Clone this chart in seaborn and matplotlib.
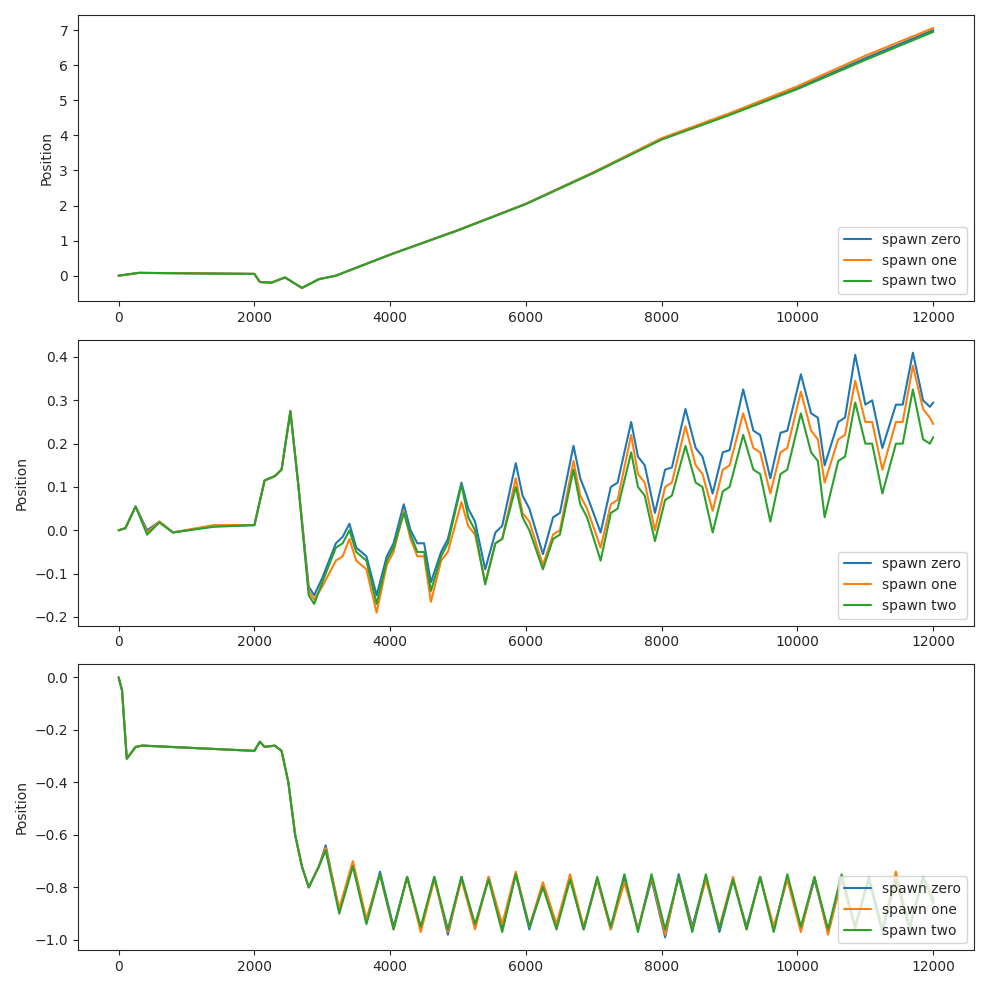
import matplotlib
matplotlib.use("Agg")
import matplotlib.pyplot as plt
import seaborn as sns
import pandas as pd

sns.set_style("ticks")
plt.rcParams['font.family'] = ['DejaVu Sans']

labels = ['spawn zero', 'spawn one', 'spawn two']
colors = ['#1f77b4', '#ff7f0e', '#2ca02c']

# Panel 1 - steady drift
x1 = [0, 300, 2000, 2080, 2250, 2450, 2700, 2950, 3200, 3600, 4000, 5000, 6000, 7000, 8000, 9000, 10000, 11000, 12000]
p1_zero = [0, 0.08, 0.05, -0.18, -0.2, -0.05, -0.35, -0.1, 0.0, 0.3, 0.6, 1.3, 2.05, 2.95, 3.9, 4.6, 5.35, 6.2, 7.0]
p1_one = [0, 0.08, 0.05, -0.18, -0.2, -0.05, -0.35, -0.1, 0.0, 0.3, 0.6, 1.3, 2.05, 2.95, 3.92, 4.63, 5.4, 6.27, 7.06]
p1_two = [0, 0.08, 0.05, -0.18, -0.2, -0.05, -0.35, -0.1, 0.0, 0.3, 0.6, 1.29, 2.04, 2.93, 3.88, 4.58, 5.32, 6.15, 6.95]

# Panel 2 - growing oscillation
x2 = [0, 100, 250, 420, 600, 800, 1400, 2000, 2150, 2300, 2400, 2530, 2650, 2800, 2880, 3000, 3200, 3300, 3400,
      3500, 3650, 3800, 3950, 4050, 4200, 4300, 4400, 4500, 4600, 4750, 4850, 5050, 5150, 5250, 5400, 5550, 5650,
      5850, 5950, 6050, 6250, 6400, 6500, 6700, 6800, 6900, 7100, 7250, 7350, 7550, 7650, 7750, 7900, 8050, 8150,
      8350, 8500, 8600, 8750, 8900, 9000, 9200, 9350, 9450, 9600, 9750, 9850, 10050, 10200, 10300, 10400, 10600,
      10700, 10850, 11000, 11100, 11250, 11450, 11550, 11700, 11850, 11950, 12000]
p2_zero = [0, 0.005, 0.055, 0.0, 0.02, -0.005, 0.01, 0.012, 0.115, 0.125, 0.14, 0.275, 0.1, -0.13, -0.15, -0.11,
           -0.03, -0.015, 0.015, -0.04, -0.06, -0.15, -0.06, -0.03, 0.06, 0.0, -0.03, -0.03, -0.12, -0.05, -0.02,
           0.11, 0.05, 0.02, -0.09, -0.005, 0.01, 0.155, 0.08, 0.05, -0.055, 0.03, 0.04, 0.195, 0.12, 0.08, -0.005,
           0.1, 0.11, 0.25, 0.17, 0.15, 0.04, 0.14, 0.145, 0.28, 0.19, 0.17, 0.085, 0.18, 0.185, 0.325, 0.23, 0.22,
           0.12, 0.225, 0.23, 0.36, 0.27, 0.26, 0.15, 0.25, 0.26, 0.405, 0.29, 0.3, 0.19, 0.29, 0.29, 0.41, 0.3,
           0.285, 0.295]
p2_one = [0, 0.005, 0.055, -0.005, 0.02, -0.005, 0.012, 0.012, 0.115, 0.125, 0.14, 0.275, 0.1, -0.14, -0.16, -0.13,
          -0.07, -0.06, -0.02, -0.07, -0.09, -0.19, -0.08, -0.05, 0.045, -0.02, -0.06, -0.06, -0.165, -0.07, -0.05,
          0.065, 0.01, -0.01, -0.12, -0.03, -0.02, 0.12, 0.04, 0.02, -0.08, -0.01, 0.0, 0.16, 0.08, 0.05, -0.04,
          0.06, 0.07, 0.22, 0.13, 0.11, 0.0, 0.1, 0.11, 0.24, 0.15, 0.13, 0.045, 0.14, 0.15, 0.27, 0.19, 0.18,
          0.085, 0.18, 0.19, 0.32, 0.23, 0.21, 0.11, 0.21, 0.22, 0.345, 0.25, 0.25, 0.14, 0.25, 0.25, 0.38, 0.28,
          0.26, 0.245]
p2_two = [0, 0.005, 0.055, -0.01, 0.018, -0.005, 0.008, 0.012, 0.115, 0.125, 0.14, 0.275, 0.1, -0.15, -0.17, -0.12,
          -0.04, -0.03, 0.0, -0.05, -0.07, -0.17, -0.07, -0.04, 0.04, -0.01, -0.05, -0.05, -0.14, -0.06, -0.03,
          0.105, 0.03, 0.0, -0.125, -0.03, -0.02, 0.1, 0.03, 0.0, -0.09, -0.02, -0.01, 0.14, 0.06, 0.03, -0.07,
          0.04, 0.05, 0.18, 0.1, 0.08, -0.025, 0.07, 0.08, 0.195, 0.11, 0.1, -0.005, 0.09, 0.1, 0.22, 0.14, 0.13,
          0.02, 0.13, 0.14, 0.27, 0.18, 0.16, 0.03, 0.16, 0.17, 0.295, 0.2, 0.2, 0.085, 0.2, 0.2, 0.325, 0.21,
          0.2, 0.215]

# Panel 3 - drop then steady oscillation
x3 = [0, 50, 120, 250, 350, 2000, 2080, 2150, 2300, 2400, 2500, 2600, 2700, 2800, 2950, 3050,
      3250, 3450, 3650, 3850, 4050, 4250, 4450, 4650, 4850, 5050, 5250, 5450, 5650, 5850, 6050, 6250,
      6450, 6650, 6850, 7050, 7250, 7450, 7650, 7850, 8050, 8250, 8450, 8650, 8850, 9050, 9250, 9450,
      9650, 9850, 10050, 10250, 10450, 10650, 10850, 11050, 11250, 11450, 11650, 11850, 12000]
p3_zero = [0, -0.05, -0.31, -0.265, -0.26, -0.28, -0.245, -0.265, -0.26, -0.28, -0.4, -0.6, -0.72, -0.8, -0.72, -0.64,
           -0.89, -0.71, -0.93, -0.74, -0.95, -0.76, -0.96, -0.76, -0.98, -0.76, -0.95, -0.76, -0.96, -0.75, -0.96, -0.79,
           -0.95, -0.76, -0.96, -0.77, -0.96, -0.76, -0.96, -0.77, -0.99, -0.75, -0.95, -0.76, -0.97, -0.77, -0.95, -0.76,
           -0.96, -0.76, -0.96, -0.77, -0.97, -0.77, -0.95, -0.77, -0.97, -0.77, -0.96, -0.76, -0.85]
p3_one = [0, -0.05, -0.31, -0.265, -0.26, -0.28, -0.245, -0.265, -0.26, -0.28, -0.4, -0.6, -0.72, -0.8, -0.72, -0.65,
          -0.88, -0.70, -0.92, -0.75, -0.96, -0.76, -0.97, -0.77, -0.97, -0.77, -0.96, -0.76, -0.94, -0.74, -0.95, -0.78,
          -0.94, -0.75, -0.95, -0.77, -0.96, -0.78, -0.96, -0.76, -0.98, -0.76, -0.96, -0.77, -0.95, -0.76, -0.96, -0.76,
          -0.95, -0.77, -0.97, -0.76, -0.98, -0.77, -0.96, -0.76, -0.96, -0.74, -0.95, -0.77, -0.84]
p3_two = [0, -0.05, -0.31, -0.265, -0.26, -0.28, -0.245, -0.265, -0.26, -0.28, -0.4, -0.6, -0.72, -0.8, -0.72, -0.66,
          -0.9, -0.72, -0.94, -0.75, -0.96, -0.76, -0.95, -0.76, -0.96, -0.76, -0.94, -0.77, -0.97, -0.75, -0.95, -0.8,
          -0.96, -0.77, -0.96, -0.76, -0.95, -0.75, -0.97, -0.75, -0.96, -0.76, -0.97, -0.75, -0.96, -0.77, -0.96, -0.76,
          -0.97, -0.75, -0.95, -0.76, -0.96, -0.75, -0.95, -0.76, -0.96, -0.77, -0.95, -0.76, -0.86]

panels = [(x1, [p1_zero, p1_one, p1_two]),
          (x2, [p2_zero, p2_one, p2_two]),
          (x3, [p3_zero, p3_one, p3_two])]

fig, axes = plt.subplots(3, 1, figsize=(9.89, 9.89), dpi=100)
for ax, (xs, series) in zip(axes, panels):
    for ys, lab, col in zip(series, labels, colors):
        df = pd.DataFrame({'step': xs, 'pos': ys})
        sns.lineplot(data=df, x='step', y='pos', ax=ax, color=col, label=lab, linewidth=1.5)
    ax.set_xlabel('')
    ax.set_ylabel('Position')
    ax.legend(loc='lower right')

plt.tight_layout()
plt.savefig('out.png', dpi=100)
